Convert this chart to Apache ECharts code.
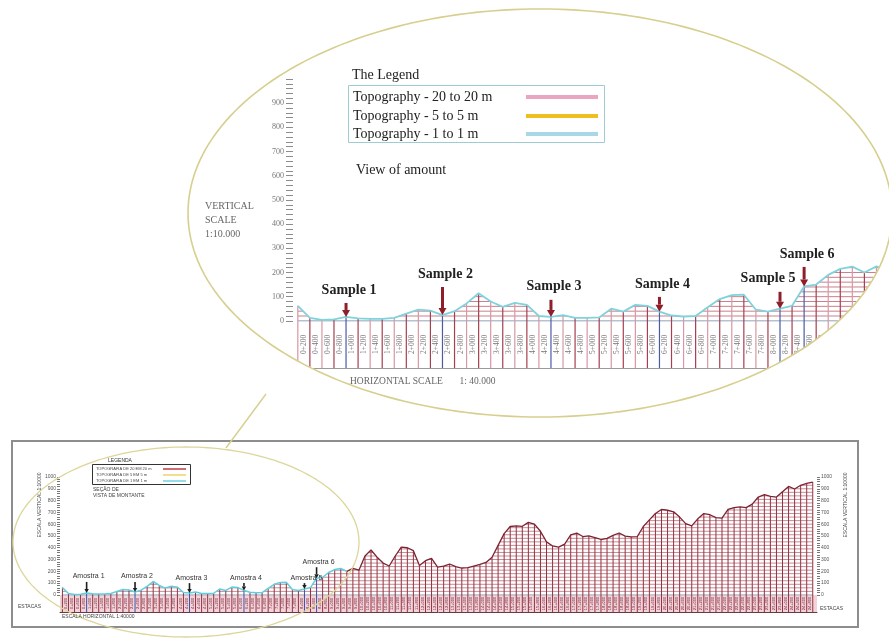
<!DOCTYPE html>
<html>
<head>
<meta charset="utf-8">
<script src="https://cdn.jsdelivr.net/npm/echarts@6/dist/echarts.min.js"></script>
<style>
  html, body { margin: 0; padding: 0; background: #ffffff; }
  #chart { width: 889px; height: 643px; }
</style>
</head>
<body>
<div id="chart"></div>
<script>
// Ground elevation (m) at each station, 200 m apart along the route
const profile = [
  62, 12, 4, 6, 16, 10, 8, 8, 12, 30,
  46, 42, 24, 40, 72, 114, 80, 58, 74, 66,
  20, 16, 24, 12, 12, 14, 50, 38, 66, 62,
  38, 22, 18, 20, 56, 90, 106, 108, 46, 38,
  50, 62, 142, 150, 190, 215, 224, 200, 225, 210,
  330, 381, 320, 270, 245, 330, 405, 400, 375, 250,
  290, 310, 235, 245, 262, 240, 228, 232, 245, 258,
  275, 320, 420, 520, 580, 585, 582, 615, 600, 540,
  450, 415, 405, 430, 510, 525, 495, 500, 485, 470,
  480, 505, 525, 498, 492, 495, 580, 636, 690, 725,
  718, 705, 660, 605, 585, 645, 690, 680, 655, 652,
  725, 740, 746, 740, 770, 830, 850, 835, 830, 875,
  920, 898, 930, 945, 957
];

// Station names written between consecutive stations
const stationLabels = [
  "0+200","0+400","0+600","0+800","1+000","1+200","1+400","1+600","1+800","2+000",
  "2+200","2+400","2+600","2+800","3+000","3+200","3+400","3+600","3+800","4+000",
  "4+200","4+400","4+600","4+800","5+000","5+200","5+400","5+600","5+800","6+000",
  "6+200","6+400","6+600","6+800","7+000","7+200","7+400","7+600","7+800","8+000",
  "8+200","8+400","8+600","8+800","9+000","9+200","9+400","9+600","9+800","10+000",
  "10+200","10+400","10+600","10+800","11+000","11+200","11+400","11+600","11+800","12+000",
  "12+200","12+400","12+600","12+800","13+000","13+200","13+400","13+600","13+800","14+000",
  "14+200","14+400","14+600","14+800","15+000","15+200","15+400","15+600","15+800","16+000",
  "16+200","16+400","16+600","16+800","17+000","17+200","17+400","17+600","17+800","18+000",
  "18+200","18+400","18+600","18+800","19+000","19+200","19+400","19+600","19+800","20+000",
  "20+200","20+400","20+600","20+800","21+000","21+200","21+400","21+600","21+800","22+000",
  "22+200","22+400","22+600","22+800","23+000","23+200","23+400","23+600","23+800","24+000",
  "24+200","24+400","24+600","24+800"
];

// Sampling points: station index, names, and elevation where each marker arrow starts
const sampleStations = [4, 12, 21, 30, 40, 42];
const sampleNamesDetail = ["Sample 1", "Sample 2", "Sample 3", "Sample 4", "Sample 5", "Sample 6"];
const sampleNamesOverview = ["Amostra 1", "Amostra 2", "Amostra 3", "Amostra 4", "Amostra 5", "Amostra 6"];
const arrowTopDetail = [74, 140, 87, 99, 120, 223];
const arrowTopOverview = [110, 110, 100, 100, 100, 235];

// Elevation axis labels
const detailElevLabels = [0, 100, 200, 300, 400, 500, 600, 700, 800, 900];
const overviewElevLabels = [0, 100, 200, 300, 400, 500, 600, 700, 800, 900, 1000];

// Detail view covers the first stations only
const DETAIL_LAST = 49;
const DETAIL_YMIN = -195;
const OVERVIEW_YMIN = -145;
const CYAN_LAST = 47;

const serif = '"Liberation Serif", "Times New Roman", serif';
const sans = '"Liberation Sans", Arial, sans-serif';

function range(a, b, step) {
  const out = [];
  for (let v = a; v <= b; v += step) out.push(v);
  return out;
}

const segDetail = [];
for (let i = 0; i < DETAIL_LAST; i++) segDetail.push([i, profile[i], profile[i + 1]]);
const segOverview = [];
for (let i = 0; i < profile.length - 1; i++) segOverview.push([i, profile[i], profile[i + 1]]);

const ptsDetail = profile.slice(0, DETAIL_LAST + 1).map((v, i) => [i, v]);
const ptsAll = profile.map((v, i) => [i, v]);
const ptsCyan = ptsAll.slice(0, CYAN_LAST + 1);
const ptsRed = ptsAll.slice(CYAN_LAST);

const bandDetail = stationLabels.slice(0, DETAIL_LAST).map((s, j) => [j + 0.5, DETAIL_YMIN / 2]);
const bandOverview = stationLabels.map((s, j) => [j + 0.5, OVERVIEW_YMIN / 2]);

const markDetail = sampleStations.map((st, k) => [st, profile[st], arrowTopDetail[k]]);
const markOverview = sampleStations.map((st, k) => [st, profile[st], arrowTopOverview[k]]);

// Horizontal contour lines below the ground line, one every `step` metres
function contourRenderer(step, color, baseColor) {
  return function (params, api) {
    const i = api.value(0), a = api.value(1), b = api.value(2);
    const top = Math.max(a, b);
    const children = [];
    for (let L = 0; L <= top; L += step) {
      let x0 = i, x1 = i + 1;
      if (a < L) x0 = i + (L - a) / (b - a);
      if (b < L) x1 = i + (a - L) / (a - b);
      const p0 = api.coord([x0, L]);
      const p1 = api.coord([x1, L]);
      children.push({
        type: 'line',
        shape: { x1: p0[0], y1: p0[1], x2: p1[0], y2: p1[1] },
        style: { stroke: L === 0 ? baseColor : color, lineWidth: 1 }
      });
    }
    return { type: 'group', children };
  };
}

// Vertical station lines from the ground down to the station band
function columnRenderer(yMin, colorOf, width) {
  return function (params, api) {
    const i = api.value(0), v = api.value(1);
    const p0 = api.coord([i, v]);
    const p1 = api.coord([i, yMin]);
    return {
      type: 'line',
      shape: { x1: p0[0], y1: p0[1], x2: p1[0], y2: p1[1] },
      style: { stroke: colorOf(i), lineWidth: width }
    };
  };
}

function bandLabelRenderer(font, color) {
  return function (params, api) {
    const p = api.coord([api.value(0), api.value(1)]);
    return {
      type: 'text',
      x: p[0], y: p[1],
      rotation: Math.PI / 2,
      style: {
        text: stationLabels[params.dataIndex],
        font: font, fill: color,
        align: 'center', verticalAlign: 'middle',
        textAlign: 'center', textVerticalAlign: 'middle'
      }
    };
  };
}

function markerRenderer(names, opt) {
  return function (params, api) {
    const k = params.dataIndex;
    const st = api.value(0), tip = api.value(1), tail = api.value(2);
    const pTip = api.coord([st, tip]);
    const pTail = api.coord([st, tail]);
    const x = pTip[0];
    const nudge = (opt.nudge && opt.nudge[k]) || 0;
    return {
      type: 'group',
      children: [
        {
          type: 'line',
          shape: { x1: x, y1: pTail[1], x2: x, y2: pTip[1] - opt.head },
          style: { stroke: opt.color, lineWidth: opt.shaft }
        },
        {
          type: 'polygon',
          shape: { points: [[x - opt.headW, pTip[1] - opt.head], [x + opt.headW, pTip[1] - opt.head], [x, pTip[1]]] },
          style: { fill: opt.color }
        },
        {
          type: 'text',
          x: x + opt.dx + nudge, y: pTail[1] - opt.gap,
          style: {
            text: names[k], font: opt.font, fill: opt.textColor,
            align: 'center', verticalAlign: 'bottom',
            textAlign: 'center', textVerticalAlign: 'bottom'
          }
        }
      ]
    };
  };
}

function arcPoints(cx, cy, rx, ry, t0, t1, n) {
  const pts = [];
  for (let k = 0; k <= n; k++) {
    const t = t0 + (t1 - t0) * k / n;
    pts.push([cx + rx * Math.cos(t), cy + ry * Math.sin(t)]);
  }
  return pts;
}

// Magnifier outline around the detail view; white fills hide whatever lies outside it
const LENS = { cx: 540, cy: 213, rx: 352, ry: 204 };
const MASK = { left: 170, right: 895, top: 0, bottom: 436 };
const lensPts = arcPoints(LENS.cx, LENS.cy, LENS.rx, LENS.ry, 0, 2 * Math.PI, 240);
const maskUpper = [[MASK.right, LENS.cy], [MASK.right, MASK.top], [MASK.left, MASK.top], [MASK.left, LENS.cy]]
  .concat(arcPoints(LENS.cx, LENS.cy, LENS.rx, LENS.ry, Math.PI, 2 * Math.PI, 120));
const maskLower = [[MASK.right, LENS.cy], [MASK.right, MASK.bottom], [MASK.left, MASK.bottom], [MASK.left, LENS.cy]]
  .concat(arcPoints(LENS.cx, LENS.cy, LENS.rx, LENS.ry, Math.PI, 0, 120));

const focusPts = arcPoints(186, 542, 173, 95, 0, 2 * Math.PI, 200);

function txt(x, y, text, font, fill) {
  return {
    type: 'text', x: x, y: y, z: 60,
    style: {
      text: text, font: font, fill: fill || '#222',
      align: 'left', verticalAlign: 'middle',
      textAlign: 'left', textVerticalAlign: 'middle'
    }
  };
}
function ctxt(x, y, text, font, fill, rotation) {
  return {
    type: 'text', x: x, y: y, z: 60, rotation: rotation || 0,
    style: {
      text: text, font: font, fill: fill,
      align: 'center', verticalAlign: 'middle',
      textAlign: 'center', textVerticalAlign: 'middle'
    }
  };
}

const graphics = [
  { type: 'polygon', z: 50, silent: true, shape: { points: maskUpper }, style: { fill: '#ffffff', stroke: '#ffffff', lineWidth: 1 } },
  { type: 'polygon', z: 50, silent: true, shape: { points: maskLower }, style: { fill: '#ffffff', stroke: '#ffffff', lineWidth: 1 } },
  { type: 'polyline', z: 55, shape: { points: lensPts }, style: { fill: null, stroke: '#d6cf8e', lineWidth: 1.6 } },
  { type: 'line', z: 55, shape: { x1: 266, y1: 394, x2: 226, y2: 448 }, style: { stroke: '#d6cf8e', lineWidth: 1.4 } },
  { type: 'rect', z: 54, shape: { x: 12, y: 441, width: 846, height: 186 }, style: { fill: null, stroke: '#8d8d8d', lineWidth: 2 } },
  { type: 'polyline', z: 55, shape: { points: focusPts }, style: { fill: null, stroke: '#ddd69a', lineWidth: 1.3 } },

  // Legend of the detail view
  txt(352, 75, 'The Legend', '14px ' + serif, '#222'),
  { type: 'rect', z: 60, shape: { x: 348.5, y: 85.5, width: 256, height: 57 }, style: { fill: null, stroke: '#9fcbd3', lineWidth: 1 } },
  txt(353, 97, 'Topography - 20 to 20 m', '14px ' + serif, '#222'),
  txt(353, 116, 'Topography - 5 to 5 m', '14px ' + serif, '#222'),
  txt(353, 134, 'Topography - 1 to 1 m', '14px ' + serif, '#222'),
  { type: 'line', z: 60, shape: { x1: 526, y1: 97, x2: 598, y2: 97 }, style: { stroke: '#eaa6c0', lineWidth: 4 } },
  { type: 'line', z: 60, shape: { x1: 526, y1: 116, x2: 598, y2: 116 }, style: { stroke: '#efbf1f', lineWidth: 4 } },
  { type: 'line', z: 60, shape: { x1: 526, y1: 134, x2: 598, y2: 134 }, style: { stroke: '#a9d7e6', lineWidth: 4 } },
  txt(356, 170, 'View of amount', '14px ' + serif, '#222'),

  txt(205, 206, 'VERTICAL', '10px ' + serif, '#666'),
  txt(205, 220, 'SCALE', '10px ' + serif, '#666'),
  txt(205, 234, '1:10.000', '10px ' + serif, '#666'),
  txt(350, 381, 'HORIZONTAL SCALE       1: 40.000', '9.5px ' + serif, '#666'),

  // Overview annotations
  ctxt(120, 461, 'LEGENDA', '5px ' + sans, '#333'),
  { type: 'rect', z: 60, shape: { x: 92.5, y: 464.5, width: 98, height: 20 }, style: { fill: null, stroke: '#333', lineWidth: 1 } },
  txt(96, 469, 'TOPOGRAFIA DE 20 EM 20 m', '4px ' + sans, '#444'),
  txt(96, 475, 'TOPOGRAFIA DE 5 EM 5 m', '4px ' + sans, '#444'),
  txt(96, 481, 'TOPOGRAFIA DE 1 EM 1 m', '4px ' + sans, '#444'),
  { type: 'line', z: 60, shape: { x1: 163, y1: 469, x2: 186, y2: 469 }, style: { stroke: '#c23a48', lineWidth: 1.5 } },
  { type: 'line', z: 60, shape: { x1: 163, y1: 475, x2: 186, y2: 475 }, style: { stroke: '#ecd46a', lineWidth: 1.5 } },
  { type: 'line', z: 60, shape: { x1: 163, y1: 481, x2: 186, y2: 481 }, style: { stroke: '#6fd3e2', lineWidth: 1.5 } },
  txt(93, 490, 'SEÇÃO DE', '5px ' + sans, '#444'),
  txt(93, 496, 'VISTA DE MONTANTE', '5px ' + sans, '#444'),
  ctxt(40, 505, 'ESCALA VERTICAL 1:10000', '5px ' + sans, '#444', Math.PI / 2),
  ctxt(846, 505, 'ESCALA VERTICAL 1:10000', '5px ' + sans, '#444', Math.PI / 2),
  txt(18, 607, 'ESTACAS', '5px ' + sans, '#444'),
  txt(820, 609, 'ESTACAS', '5px ' + sans, '#444'),
  txt(62, 617, 'ESCALA HORIZONTAL 1:40000', '5px ' + sans, '#444')
];

const ticksEvery20 = range(0, 1000, 20);
const plain = v => String(v);

const option = {
  backgroundColor: '#ffffff',
  animation: false,
  grid: [
    { left: 293, top: 79, width: 595.5, height: 289 },
    { left: 60, top: 477, width: 757, height: 135 }
  ],
  xAxis: [
    {
      gridIndex: 0, type: 'value', min: -0.4, max: DETAIL_LAST,
      axisLine: { show: true, onZero: false, lineStyle: { color: '#9a9a9a', width: 1 } },
      axisTick: { show: false }, axisLabel: { show: false }, splitLine: { show: false }
    },
    {
      gridIndex: 1, type: 'value', min: -0.4, max: 124.7,
      axisLine: { show: true, onZero: false, lineStyle: { color: '#6a3a44', width: 1 } },
      axisTick: { show: false }, axisLabel: { show: false }, splitLine: { show: false }
    }
  ],
  yAxis: [
    {
      gridIndex: 0, type: 'value', min: DETAIL_YMIN, max: 1000, position: 'left',
      axisLine: { show: false, onZero: false },
      axisTick: { show: true, customValues: ticksEvery20, length: 7, lineStyle: { color: '#8c8c8c' } },
      axisLabel: { customValues: detailElevLabels, formatter: plain, fontSize: 8, color: '#777', fontFamily: serif, margin: 9 },
      splitLine: { show: false }
    },
    {
      gridIndex: 1, type: 'value', min: OVERVIEW_YMIN, max: 1000, position: 'left',
      axisLine: { show: false, onZero: false },
      axisTick: { show: true, customValues: ticksEvery20, length: 3, lineStyle: { color: '#777' } },
      axisLabel: { customValues: overviewElevLabels, formatter: plain, fontSize: 5, color: '#555', fontFamily: sans, margin: 4 },
      splitLine: { show: false }
    },
    {
      gridIndex: 1, type: 'value', min: OVERVIEW_YMIN, max: 1000, position: 'right',
      axisLine: { show: false, onZero: false },
      axisTick: { show: true, customValues: ticksEvery20, length: 3, lineStyle: { color: '#777' } },
      axisLabel: { customValues: overviewElevLabels, formatter: plain, fontSize: 5, color: '#555', fontFamily: sans, margin: 4 },
      splitLine: { show: false }
    }
  ],
  graphic: { elements: graphics },
  series: [
    // ---- detail view ----
    {
      type: 'custom', name: 'contours-detail', xAxisIndex: 0, yAxisIndex: 0, z: 2,
      data: segDetail, encode: { x: 0, y: 1 },
      renderItem: contourRenderer(20, '#c9808b', '#8fa3b8'), silent: true
    },
    {
      type: 'custom', name: 'stations-detail', xAxisIndex: 0, yAxisIndex: 0, z: 3,
      data: ptsDetail, encode: { x: 0, y: 1 },
      renderItem: columnRenderer(DETAIL_YMIN, i => sampleStations.indexOf(i) >= 0 ? '#4c5aa6' : (i % 2 ? '#a63f50' : '#d797a3'), 1.2),
      silent: true
    },
    {
      type: 'line', name: 'Topography - 1 to 1 m', xAxisIndex: 0, yAxisIndex: 0, z: 4,
      data: ptsDetail, symbol: 'none', lineStyle: { color: '#80d2dc', width: 1.8 }, silent: true
    },
    {
      type: 'custom', name: 'band-detail', xAxisIndex: 0, yAxisIndex: 0, z: 4,
      data: bandDetail, encode: { x: 0, y: 1 },
      renderItem: bandLabelRenderer('7.5px ' + serif, '#777'), silent: true
    },
    {
      type: 'custom', name: 'samples-detail', xAxisIndex: 0, yAxisIndex: 0, z: 6,
      data: markDetail, encode: { x: 0, y: [1, 2] },
      renderItem: markerRenderer(sampleNamesDetail, {
        color: '#8e1f2a', shaft: 3, head: 7, headW: 4, gap: 6, dx: 3,
        nudge: { 4: -15 }, font: 'bold 14px ' + serif, textColor: '#222'
      }),
      silent: true
    },

    // ---- overview ----
    {
      type: 'custom', name: 'contours-overview', xAxisIndex: 1, yAxisIndex: 1, z: 2,
      data: segOverview, encode: { x: 0, y: 1 },
      renderItem: contourRenderer(30, '#c98892', '#9aa9bb'), silent: true
    },
    {
      type: 'custom', name: 'stations-overview', xAxisIndex: 1, yAxisIndex: 1, z: 3,
      data: ptsAll, encode: { x: 0, y: 1 },
      renderItem: columnRenderer(OVERVIEW_YMIN, i => sampleStations.indexOf(i) >= 0 ? '#3d4fa8' : '#93303f', 1),
      silent: true
    },
    {
      type: 'line', name: 'overview-cyan', xAxisIndex: 1, yAxisIndex: 1, z: 4,
      data: ptsCyan, symbol: 'none', lineStyle: { color: '#5fcfe0', width: 1.5 }, silent: true,
      markArea: {
        silent: true, itemStyle: { color: '#f3d3da' },
        data: [[{ coord: [-0.4, OVERVIEW_YMIN] }, { coord: [124.7, 0] }]]
      }
    },
    {
      type: 'line', name: 'overview-red', xAxisIndex: 1, yAxisIndex: 1, z: 4,
      data: ptsRed, symbol: 'none', lineStyle: { color: '#7c2333', width: 1.3 }, silent: true
    },
    {
      type: 'custom', name: 'band-overview', xAxisIndex: 1, yAxisIndex: 1, z: 4,
      data: bandOverview, encode: { x: 0, y: 1 },
      renderItem: bandLabelRenderer('4px ' + sans, '#6e2030'), silent: true
    },
    {
      type: 'custom', name: 'samples-overview', xAxisIndex: 1, yAxisIndex: 1, z: 6,
      data: markOverview, encode: { x: 0, y: [1, 2] },
      renderItem: markerRenderer(sampleNamesOverview, {
        color: '#1e1e1e', shaft: 1.6, head: 4, headW: 2.2, gap: 2, dx: 2,
        nudge: {}, font: '7px ' + sans, textColor: '#333'
      }),
      silent: true
    }
  ]
};

const chart = echarts.init(document.getElementById('chart'));
chart.setOption(option);
</script>
</body>
</html>
